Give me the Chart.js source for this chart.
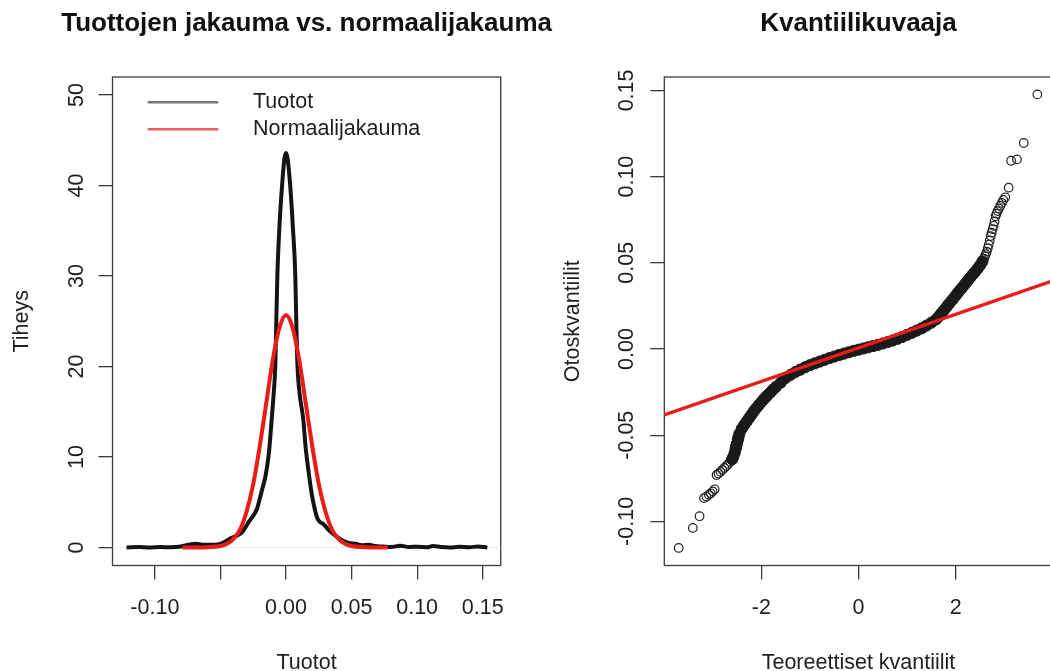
<!DOCTYPE html>
<html>
<head>
<meta charset="utf-8">
<title>Tuottojen jakauma</title>
<script src="https://cdn.jsdelivr.net/npm/chart.js@4.4.1/dist/chart.umd.min.js"></script>
<style>
  html, body { margin: 0; padding: 0; background: #fff; overflow: hidden; }
  #wrap { position: relative; width: 1050px; height: 671px; overflow: hidden; }
  #density { position: absolute; left: 0; top: 0; }
  #qq { position: absolute; left: 525px; top: 0; }
</style>
</head>
<body>
<div id="wrap">
  <canvas id="density" width="570" height="671"></canvas>
  <canvas id="qq" width="540" height="671"></canvas>
</div>
<script>
// ── Density of returns (kernel estimate) ──
const densityX = [-0.1216, -0.112, -0.104, -0.096, -0.088, -0.080, -0.074, -0.069, -0.064, -0.058,
  -0.052, -0.047, -0.043, -0.038, -0.034, -0.031, -0.028, -0.025, -0.022, -0.020,
  -0.018, -0.0155, -0.0130, -0.0110, -0.0095, -0.0082, -0.0074, -0.0066, -0.0050, -0.0030,
  -0.0012, 0.0000, 0.0012, 0.0032, 0.0052, 0.0071, 0.0079, 0.0086, 0.0100, 0.0132,
  0.0150, 0.0170, 0.0195, 0.0220, 0.0240, 0.0260, 0.0285, 0.0320, 0.0360, 0.0400,
  0.0440, 0.0480, 0.0530, 0.0580, 0.0630, 0.0680, 0.0740, 0.0800, 0.0870, 0.0940,
  0.1000, 0.1080, 0.1120, 0.1180, 0.1250, 0.1320, 0.1400, 0.1460, 0.1535];
const densityY = [0.00, 0.05, 0.00, 0.04, 0.02, 0.10, 0.30, 0.40, 0.30, 0.28,
  0.32, 0.60, 0.95, 1.25, 1.60, 2.20, 2.90, 3.50, 4.30, 5.40,
  6.50, 8.00, 10.5, 14.0, 16.8, 20.0, 25.0, 30.0, 35.5, 40.0,
  43.0, 43.6, 43.0, 40.0, 35.5, 30.0, 24.5, 20.5, 17.5, 14.1,
  11.0, 8.6, 6.0, 4.2, 3.2, 2.8, 2.6, 2.0, 1.5, 1.05,
  0.70, 0.50, 0.40, 0.25, 0.30, 0.15, 0.10, 0.05, 0.18, 0.05,
  0.08, 0.02, 0.15, 0.05, 0.00, 0.06, 0.02, 0.10, 0.00];

// ── Fitted normal density ──
const normalX = [-0.079, -0.070, -0.060, -0.050, -0.045, -0.040, -0.035, -0.030, -0.025, -0.020,
  -0.015, -0.010, -0.005, 0.000, 0.005, 0.010, 0.015, 0.020, 0.025, 0.030,
  0.035, 0.040, 0.045, 0.050, 0.060, 0.070, 0.0776];
const normalY = [0.00, 0.00, 0.03, 0.15, 0.40, 0.95, 2.0, 4.0, 7.0, 11.2,
  16.0, 20.8, 24.3, 25.7, 24.3, 20.8, 16.0, 11.2, 7.0, 4.0,
  2.0, 0.95, 0.40, 0.15, 0.03, 0.00, 0.00];

const densityXTicks = [-0.10, -0.05, 0.00, 0.05, 0.10, 0.15];
const densityXLabels = ['-0.10', '', '0.00', '0.05', '0.10', '0.15'];
const densityYTicks = [0, 10, 20, 30, 40, 50];
const densityYLabels = ['0', '10', '20', '30', '40', '50'];

// ── Q-Q plot: dense middle of the sample ──
const qqCoreX = [-2.60, -2.58, -2.55, -2.53, -2.52, -2.50, -2.48, -2.47, -2.45, -2.40,
  -2.35, -2.30, -2.25, -2.20, -2.15, -2.10, -2.05, -2.00, -1.95, -1.90,
  -1.85, -1.80, -1.75, -1.70, -1.60, -1.50, -1.40, -1.30, -1.20, -1.10,
  -1.00, -0.90, -0.80, -0.70, -0.60, -0.50, -0.40, -0.30, -0.20, -0.10,
  0.00, 0.10, 0.20, 0.30, 0.40, 0.50, 0.60, 0.70, 0.80, 0.90,
  1.00, 1.10, 1.20, 1.30, 1.40, 1.50, 1.60, 1.65, 1.70, 1.75,
  1.80, 1.85, 1.90, 1.95, 2.00, 2.05, 2.10, 2.15, 2.20, 2.25,
  2.30, 2.35, 2.40, 2.45, 2.50, 2.55];
const qqCoreY = [-0.0640, -0.0628, -0.0605, -0.0582, -0.0565, -0.0548, -0.0525, -0.0512, -0.0491, -0.0462,
  -0.0440, -0.0420, -0.0400, -0.0380, -0.0360, -0.0342, -0.0325, -0.0308, -0.0292, -0.0277,
  -0.0262, -0.0248, -0.0233, -0.0220, -0.0195, -0.0168, -0.0150, -0.0134, -0.0120, -0.0106,
  -0.0094, -0.0083, -0.0073, -0.0063, -0.0053, -0.0044, -0.0035, -0.0027, -0.0019, -0.0011,
  -0.0004, 0.0003, 0.0010, 0.0017, 0.0024, 0.0032, 0.0040, 0.0049, 0.0059, 0.0070,
  0.0082, 0.0094, 0.0107, 0.0120, 0.0136, 0.0153, 0.0172, 0.0188, 0.0205, 0.0222,
  0.0240, 0.0258, 0.0275, 0.0292, 0.0310, 0.0328, 0.0345, 0.0362, 0.0380, 0.0398,
  0.0415, 0.0432, 0.0448, 0.0466, 0.0485, 0.0508];

// ── Q-Q plot: sparse tails ──
const qqTailX = [-3.70, -3.41, -3.27, -3.18, -3.13, -3.08, -3.04, -3.00, -2.96, -2.92,
  -2.88, -2.84, -2.80, -2.76, -2.72, -2.68, -2.64,
  2.58, 2.60, 2.62, 2.64, 2.66, 2.68, 2.70, 2.72, 2.74, 2.76,
  2.78, 2.80, 2.82, 2.84, 2.86, 2.89, 2.92, 2.95, 2.98, 3.02,
  3.09, 3.14, 3.26, 3.40, 3.68];
const qqTailY = [-0.1154, -0.1038, -0.0970, -0.0865, -0.0856, -0.0846, -0.0837, -0.0826, -0.0814, -0.0731,
  -0.0722, -0.0712, -0.0701, -0.0690, -0.0679, -0.0667, -0.0654,
  0.0525, 0.0538, 0.0550, 0.0565, 0.0585, 0.0605, 0.0630, 0.0655, 0.0675, 0.0695,
  0.0715, 0.0740, 0.0770, 0.0785, 0.0800, 0.0815, 0.0832, 0.0848, 0.0865, 0.0880,
  0.0936, 0.1092, 0.1100, 0.1195, 0.1477];

// reference line through the quartiles
const qqLineX = [-3.996, 3.996];
const qqLineY = [-0.0382, 0.0396];

const qqXTicks = [-2, 0, 2];
const qqXLabels = ['-2', '0', '2'];
const qqYTicks = [-0.10, -0.05, 0.00, 0.05, 0.10, 0.15];
const qqYLabels = ['-0.10', '-0.05', '0.00', '0.05', '0.10', '0.15'];

// ── Look ──
const FONT = "'Liberation Sans', Arial, Helvetica, sans-serif";
const TEXT = '#1e1e1e';
const AXIS = '#3a3a3a';
const RED = 'rgb(234, 28, 24)';
const INK = '#141414';

Chart.defaults.font.family = FONT;
Chart.defaults.color = TEXT;

const pts = (xs, ys) => xs.map((x, i) => ({ x, y: ys[i] }));

// frame around the plotting region, like R's box()
const plotBox = {
  id: 'plotBox',
  beforeDatasetsDraw(chart) {
    const { ctx, chartArea: a } = chart;
    ctx.save();
    ctx.strokeStyle = AXIS;
    ctx.lineWidth = 1.3;
    ctx.strokeRect(a.left, a.top, a.right - a.left, a.bottom - a.top);
    ctx.restore();
  }
};

// bold main title centred over the plotting region (may be wider than it)
const plotTitle = {
  id: 'plotTitle',
  afterDraw(chart, args, opts) {
    const { ctx, chartArea: a } = chart;
    ctx.save();
    ctx.font = 'bold 26px ' + FONT;
    ctx.fillStyle = '#111';
    ctx.textAlign = 'center';
    ctx.textBaseline = 'middle';
    ctx.fillText(opts.text, (a.left + a.right) / 2, opts.y);
    ctx.restore();
  }
};

// legend drawn inside the plot, top-left
const innerLegend = {
  id: 'innerLegend',
  afterDatasetsDraw(chart) {
    const { ctx, chartArea: a } = chart;
    const items = chart.data.datasets.filter(ds => ds.label);
    ctx.save();
    ctx.font = '21.5px ' + FONT;
    ctx.textBaseline = 'middle';
    ctx.textAlign = 'left';
    items.forEach((ds, i) => {
      const y = a.top + 25.3 + i * 27;
      ctx.strokeStyle = ds.legendColor;
      ctx.lineWidth = 2.5;
      ctx.beginPath();
      ctx.moveTo(a.left + 35.2, y);
      ctx.lineTo(a.left + 105.8, y);
      ctx.stroke();
      ctx.fillStyle = TEXT;
      ctx.fillText(ds.label, a.left + 140.5, y);
    });
    ctx.restore();
  }
};

function axisX(min, max, ticks, labels, title, height) {
  return {
    type: 'linear', min, max,
    afterBuildTicks: s => { s.ticks = ticks.map(v => ({ value: v })); },
    afterFit: s => { s.height = height; },
    ticks: { autoSkip: false, maxRotation: 0, padding: 16, font: { size: 21.5 }, color: TEXT,
      callback: (v, i) => labels[i] },
    grid: { drawOnChartArea: false, drawTicks: true, tickLength: 14, color: AXIS, lineWidth: 1.3 },
    border: { display: false },
    title: { display: true, text: title, color: TEXT, font: { size: 21.5, lineHeight: 1 },
      padding: { top: 0, bottom: -3 } }
  };
}

function axisY(min, max, ticks, labels, title, width, tickPad, titlePad) {
  return {
    type: 'linear', min, max,
    afterBuildTicks: s => { s.ticks = ticks.map(v => ({ value: v })); },
    afterFit: s => { s.width = width; },
    ticks: { autoSkip: false, minRotation: 90, maxRotation: 90, crossAlign: 'center',
      padding: tickPad, font: { size: 21.5 }, color: TEXT,
      callback: (v, i) => labels[i] },
    grid: { drawOnChartArea: false, drawTicks: true, tickLength: 14, color: AXIS, lineWidth: 1.3 },
    border: { display: false },
    title: { display: true, text: title, color: TEXT, font: { size: 21.5, lineHeight: 1 },
      padding: { top: titlePad, bottom: 0 } }
  };
}

const densityXMin = -0.1323, densityXMax = 0.1637;

new Chart(document.getElementById('density'), {
  type: 'scatter',
  data: {
    datasets: [
      {
        label: 'Tuotot', legendColor: '#777',
        data: pts(densityX, densityY),
        showLine: true, borderColor: INK, borderWidth: 4, pointRadius: 0,
        cubicInterpolationMode: 'monotone', order: 1
      },
      {
        label: 'Normaalijakauma', legendColor: '#f06060',
        data: pts(normalX, normalY),
        showLine: true, borderColor: RED, borderWidth: 4, pointRadius: 0,
        cubicInterpolationMode: 'monotone', order: 0
      },
      {
        // faint zero line under the curves
        data: pts([densityXMin, densityXMax], [0, 0]),
        showLine: true, borderColor: '#ececec', borderWidth: 1, pointRadius: 0, order: 2
      }
    ]
  },
  options: {
    responsive: false, animation: false, events: [],
    layout: { padding: { left: 0, right: 69.3, top: 77, bottom: 0 } },
    plugins: {
      legend: { display: false }, tooltip: { enabled: false }, title: { display: false },
      plotTitle: { text: 'Tuottojen jakauma vs. normaalijakauma', y: 24 }
    },
    scales: {
      x: axisX(densityXMin, densityXMax, densityXTicks, densityXLabels, 'Tuotot', 105.5),
      y: axisY(-2, 52, densityYTicks, densityYLabels, 'Tiheys', 112.5, 9.6, 11.2)
    }
  },
  plugins: [plotBox, plotTitle, innerLegend]
});

new Chart(document.getElementById('qq'), {
  type: 'scatter',
  data: {
    datasets: [
      {
        data: pts(qqLineX, qqLineY),
        showLine: true, borderColor: RED, borderWidth: 3.4, pointRadius: 0, order: 0
      },
      {
        data: pts(qqCoreX, qqCoreY),
        pointRadius: 5.6, pointBorderWidth: 1, borderColor: '#1a1a1a', backgroundColor: '#1a1a1a', order: 1
      },
      {
        data: pts(qqTailX, qqTailY),
        pointRadius: 4.3, pointBorderWidth: 1.2, borderColor: '#222', backgroundColor: 'rgba(0,0,0,0)', order: 2
      }
    ]
  },
  options: {
    responsive: false, animation: false, events: [],
    layout: { padding: { left: 0, right: 12.3, top: 77, bottom: 0 } },
    plugins: {
      legend: { display: false }, tooltip: { enabled: false }, title: { display: false },
      plotTitle: { text: 'Kvantiilikuvaaja', y: 24 }
    },
    scales: {
      x: axisX(-3.996, 3.996, qqXTicks, qqXLabels, 'Teoreettiset kvantiilit', 105.5),
      y: axisY(-0.1256, 0.1578, qqYTicks, qqYLabels, 'Otoskvantiilit', 139.3, -1.6, 37)
    }
  },
  plugins: [plotBox, plotTitle]
});
</script>
</body>
</html>
